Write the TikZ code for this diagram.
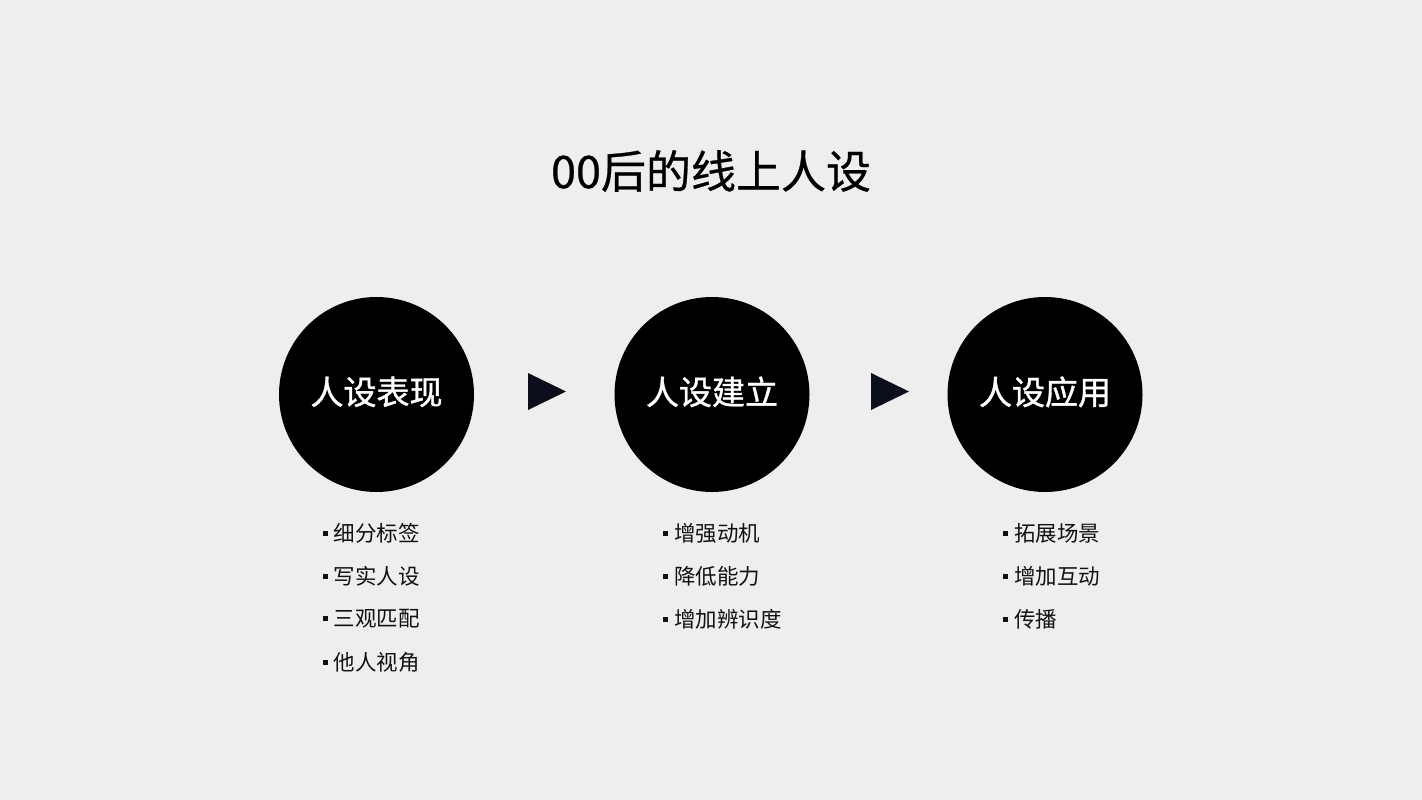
\documentclass[tikz,border=0pt]{standalone}
\usepackage{fontspec}
\setmainfont{Noto Sans CJK SC}
\newfontfamily\cjk{Noto Sans CJK SC}
\newfontfamily\cjkm[FakeBold=1.2]{Noto Sans CJK SC}
\newfontfamily\cjkt[FakeBold=0.6]{Noto Sans CJK SC}
\definecolor{bg}{HTML}{EEEEEE}
\definecolor{ink}{HTML}{111111}
\definecolor{tri}{HTML}{0B0F1C}
\begin{document}
\begin{tikzpicture}[x=1pt,y=-1pt,
  stage/.style={circle,fill=black,minimum size=195pt,inner sep=0pt,text=white,
    font=\cjkm\fontsize{33}{33}\selectfont},
  item/.style={anchor=west,inner sep=0pt,text=ink,font=\cjk\fontsize{21.5}{22}\selectfont},
  arrowtri/.style={fill=tri}
]
\useasboundingbox[fill=bg] (0,0) rectangle (1422,800);
\node[text=black,font=\cjkt\fontsize{45}{46}\selectfont] (title) at (711,171) {00后的线上人设};

\node[stage] (s1) at (376.5,394.5) {\raisebox{8pt}{人设表现}};
\node[stage] (s2) at (712,394.5) {\raisebox{8pt}{人设建立}};
\node[stage] (s3) at (1045,394.5) {\raisebox{8pt}{人设应用}};

\coordinate (t1) at (528,391.5);
\coordinate (t2) at (871,391.5);
\fill[arrowtri] (t1) ++(0,-18.5) -- ++(38,18.5) -- ++(-38,18.5) -- cycle;
\fill[arrowtri] (t2) ++(0,-18.5) -- ++(38,18.5) -- ++(-38,18.5) -- cycle;

\newcommand{\blt}{\rule[5.5pt]{5pt}{5pt}\hspace{6pt}}
\node[item] (a1) at (322.5,533) {\blt 细分标签};
\node[item] (a2) at (322.5,576) {\blt 写实人设};
\node[item] (a3) at (322.5,619) {\blt 三观匹配};
\node[item] (a4) at (322.5,662) {\blt 他人视角};

\node[item] (b1) at (663,533) {\blt 增强动机};
\node[item] (b2) at (663,576) {\blt 降低能力};
\node[item] (b3) at (663,619) {\blt 增加辨识度};

\node[item] (c1) at (1003,533) {\blt 拓展场景};
\node[item] (c2) at (1003,576) {\blt 增加互动};
\node[item] (c3) at (1003,619) {\blt 传播};
\end{tikzpicture}
\end{document}
